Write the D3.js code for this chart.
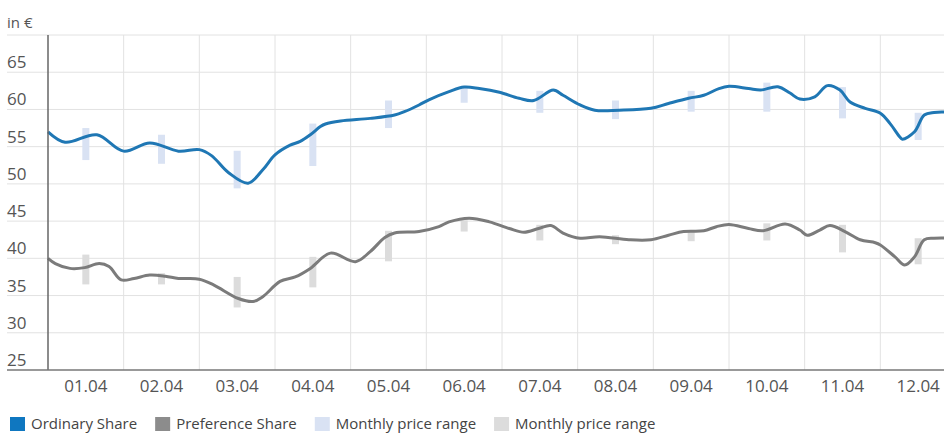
<!DOCTYPE html>
<html>
<head>
<meta charset="utf-8">
<script src="https://cdn.jsdelivr.net/npm/d3@7"></script>
<style>
  html, body { margin: 0; padding: 0; background: #fff; }
  svg { display: block; font-family: "Open Sans", "DejaVu Sans", sans-serif; }
</style>
</head>
<body>
<svg id="chart" width="944" height="434"></svg>
<script>
// Months shown on the x axis (2004)
const monthLabels = ["01.04","02.04","03.04","04.04","05.04","06.04","07.04","08.04","09.04","10.04","11.04","12.04"];
const yTicks = [25,30,35,40,45,50,55,60,65];

// Ordinary share closing prices (EUR)
const ordinaryDates = ["2004-01-01","2004-01-08","2004-01-21","2004-02-01","2004-02-11","2004-02-22","2004-03-01","2004-03-06","2004-03-13","2004-03-21","2004-03-27","2004-04-01","2004-04-07","2004-04-11","2004-04-15","2004-04-19","2004-04-21","2004-04-27","2004-05-09","2004-05-19","2004-05-23","2004-05-29","2004-06-02","2004-06-10","2004-06-16","2004-06-22","2004-06-30","2004-07-08","2004-07-14","2004-07-22","2004-07-26","2004-08-02","2004-08-08","2004-08-18","2004-08-31","2004-09-07","2004-09-15","2004-09-21","2004-09-27","2004-10-01","2004-10-09","2004-10-14","2004-10-21","2004-10-26","2004-10-30","2004-11-05","2004-11-10","2004-11-15","2004-11-19","2004-11-25","2004-12-01","2004-12-05","2004-12-09","2004-12-10","2004-12-15","2004-12-19","2004-12-23","2004-12-31"];
const ordinaryValues = [57.0,55.6,56.6,54.4,55.5,54.4,54.6,53.8,51.5,50.1,51.9,53.9,55.2,55.7,56.6,57.7,58.05,58.45,58.8,59.25,59.7,60.6,61.3,62.4,63.0,62.8,62.3,61.5,61.2,62.6,61.9,60.6,59.9,59.9,60.15,60.8,61.5,61.9,62.8,63.1,62.8,62.6,63.05,62.2,61.4,61.7,63.2,62.6,61.0,60.15,59.5,58.1,56.3,56.0,57.0,59.25,59.6,59.6];

// Preference share closing prices (EUR)
const preferenceDates = ["2004-01-01","2004-01-04","2004-01-10","2004-01-16","2004-01-22","2004-01-26","2004-01-31","2004-02-05","2004-02-11","2004-02-17","2004-02-22","2004-03-01","2004-03-07","2004-03-17","2004-03-23","2004-03-27","2004-04-03","2004-04-09","2004-04-15","2004-04-23","2004-05-03","2004-05-09","2004-05-15","2004-05-19","2004-05-29","2004-06-06","2004-06-10","2004-06-18","2004-06-26","2004-07-04","2004-07-10","2004-07-16","2004-07-21","2004-07-26","2004-08-02","2004-08-10","2004-08-22","2004-08-31","2004-09-07","2004-09-13","2004-09-21","2004-09-26","2004-10-01","2004-10-09","2004-10-15","2004-10-24","2004-10-30","2004-11-02","2004-11-07","2004-11-11","2004-11-17","2004-11-23","2004-11-29","2004-12-01","2004-12-07","2004-12-11","2004-12-15","2004-12-19","2004-12-23","2004-12-31"];
const preferenceValues = [40.0,39.3,38.65,38.75,39.3,38.9,37.1,37.3,37.75,37.6,37.3,37.2,36.4,34.6,34.2,34.85,36.9,37.5,38.65,40.7,39.55,40.9,42.8,43.4,43.6,44.25,44.9,45.4,44.9,44.0,43.5,44.0,44.4,43.4,42.7,42.9,42.5,42.5,43.1,43.6,43.7,44.25,44.55,44.0,43.7,44.6,43.8,43.1,43.8,44.4,43.6,42.5,42.1,41.8,40.2,39.1,40.2,42.5,42.7,42.7];

// Monthly high / low ranges
const ordinaryHigh = [57.5,56.6,54.45,58.1,61.2,63.0,62.5,61.2,62.5,63.6,63.0,59.55];
const ordinaryLow  = [53.2,52.7,49.4,52.4,57.5,60.9,59.55,58.7,59.7,59.7,58.8,55.9];
const preferenceHigh = [40.5,38.0,37.5,40.2,43.7,45.1,44.5,43.1,43.7,44.7,44.5,42.7];
const preferenceLow  = [36.5,36.5,33.4,36.1,39.6,43.6,42.4,41.9,42.3,42.4,40.8,39.2];

const legendItems = [
  {label: "Ordinary Share", color: "#0f77c0"},
  {label: "Preference Share", color: "#8c8c8c"},
  {label: "Monthly price range", color: "#d9e2f3"},
  {label: "Monthly price range", color: "#dcdcdc"}
];

const svg = d3.select("#chart");
const plotLeft = 48, plotRight = 956, plotTop = 35, plotBottom = 370, gridLeft = 7;

// month index scale (each month an equal slot)
const xm = d3.scaleLinear().domain([0, 12]).range([plotLeft, plotRight]);
const xb = d3.scaleBand().domain(monthLabels).range([plotLeft, plotRight]);
const y = d3.scaleLinear().domain([25, 70]).range([plotBottom, plotTop]);

function monthPos(s) {
  const [yr, m, d] = s.split("-").map(Number);
  const days = new Date(Date.UTC(yr, m, 0)).getUTCDate();
  return (m - 1) + (d - 1) / days;
}

// horizontal grid
const g = svg.append("g");
g.selectAll("line.hgrid").data(yTicks.concat([70]).filter(v => v !== 25)).join("line")
  .attr("x1", gridLeft).attr("x2", 944)
  .attr("y1", d => y(d)).attr("y2", d => y(d))
  .attr("stroke", "#e2e2e2").attr("stroke-width", 1);

// vertical month grid
g.selectAll("line.vgrid").data(d3.range(1, 12)).join("line")
  .attr("x1", d => xm(d)).attr("x2", d => xm(d))
  .attr("y1", plotTop).attr("y2", plotBottom)
  .attr("stroke", "#e2e2e2").attr("stroke-width", 1);

// monthly range bars
const barW = 7;
svg.append("g").selectAll("rect").data(monthLabels).join("rect")
  .attr("x", d => xb(d) + xb.bandwidth() / 2 - barW / 2)
  .attr("width", barW)
  .attr("y", (d, i) => y(ordinaryHigh[i]))
  .attr("height", (d, i) => y(ordinaryLow[i]) - y(ordinaryHigh[i]))
  .attr("fill", "#d9e2f3");
svg.append("g").selectAll("rect").data(monthLabels).join("rect")
  .attr("x", d => xb(d) + xb.bandwidth() / 2 - barW / 2)
  .attr("width", barW)
  .attr("y", (d, i) => y(preferenceHigh[i]))
  .attr("height", (d, i) => y(preferenceLow[i]) - y(preferenceHigh[i]))
  .attr("fill", "#dcdcdc");

// price lines
const line = d3.line()
  .x(d => xm(monthPos(d[0])))
  .y(d => y(d[1]))
  .curve(d3.curveCatmullRom.alpha(0.5));

svg.append("path")
  .datum(d3.zip(preferenceDates, preferenceValues))
  .attr("d", line).attr("fill", "none")
  .attr("stroke", "#7b7b7b").attr("stroke-width", 3)
  .attr("stroke-linejoin", "round");
svg.append("path")
  .datum(d3.zip(ordinaryDates, ordinaryValues))
  .attr("d", line).attr("fill", "none")
  .attr("stroke", "#1f77b4").attr("stroke-width", 3)
  .attr("stroke-linejoin", "round");

// axes lines
svg.append("line")
  .attr("x1", plotLeft).attr("x2", plotLeft)
  .attr("y1", plotTop).attr("y2", plotBottom)
  .attr("stroke", "#666").attr("stroke-width", 1.5);
svg.append("line")
  .attr("x1", gridLeft).attr("x2", 944)
  .attr("y1", plotBottom).attr("y2", plotBottom)
  .attr("stroke", "#777").attr("stroke-width", 1.5);

// y labels, sitting above their gridlines
svg.append("g").selectAll("text").data(yTicks).join("text")
  .attr("x", gridLeft).attr("y", d => y(d) - 4)
  .attr("font-size", 17).attr("fill", "#555")
  .text(d => d);
svg.append("text")
  .attr("x", gridLeft).attr("y", y(70) - 7)
  .attr("font-size", 15).attr("fill", "#555")
  .text("in €");

// x labels
const xAxis = d3.axisBottom(xb).tickSize(0).tickPadding(0);
const xg = svg.append("g").attr("transform", `translate(0,${plotBottom})`).call(xAxis);
xg.select(".domain").remove();
xg.selectAll("text")
  .attr("y", 22).attr("dy", null)
  .attr("font-size", 17).attr("fill", "#555")
  .attr("font-family", "\"Open Sans\", sans-serif");

// legend
const lg = svg.append("g");
let lx = 10;
legendItems.forEach(item => {
  lg.append("rect").attr("x", lx).attr("y", 417).attr("width", 15).attr("height", 14).attr("fill", item.color);
  const t = lg.append("text").attr("x", lx + 21).attr("y", 429)
    .attr("font-size", 15).attr("fill", "#444").text(item.label);
  lx += 21 + t.node().getComputedTextLength() + 18;
});
</script>
</body>
</html>
